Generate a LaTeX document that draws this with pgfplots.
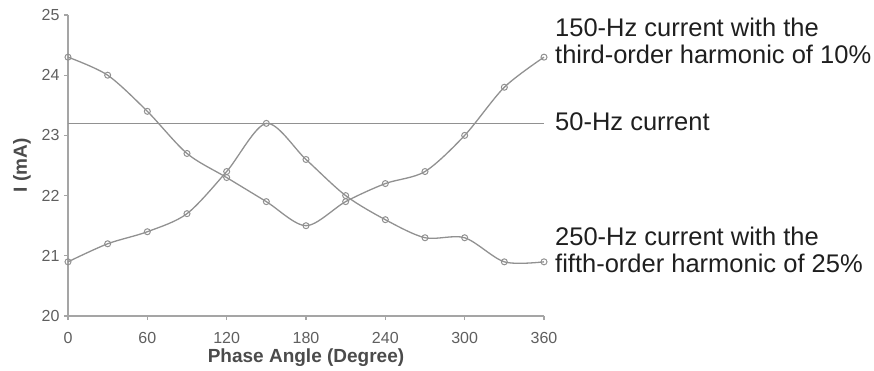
\documentclass[border=0pt]{standalone}
\usepackage{fontspec}
\setmainfont{Liberation Sans}
\usepackage{pgfplots}
\pgfplotsset{compat=1.18}
\definecolor{lgray}{RGB}{145,145,145}
\definecolor{agray}{RGB}{165,165,165}
\definecolor{tgray}{RGB}{95,95,95}
\definecolor{lblgray}{RGB}{75,75,75}
\begin{document}
\begin{tikzpicture}
\begin{axis}[
  scale only axis, width=476bp, height=301bp,
  xmin=0, xmax=360, ymin=20, ymax=25,
  enlargelimits=false, clip=false,
  axis x line=bottom, axis y line=left,
  axis line style={-, agray, line width=1.6bp},
  xtick={0,60,...,360}, ytick={20,21,...,25},
  tick align=outside, major tick length=4bp,
  tick style={agray, line width=1.2bp},
  /pgf/number format/assume math mode=true,
  ticklabel style={font=\fontsize{16bp}{18bp}\selectfont, text=tgray},
  xticklabel style={anchor=center, yshift=-18bp},
  yticklabel style={anchor=east, xshift=-1bp},
  xlabel={Phase Angle (Degree)}, ylabel={I (mA)},
  label style={font=\fontsize{19bp}{21bp}\selectfont\bfseries, text=lblgray},
  xlabel style={at={(axis description cs:0.5,0)}, anchor=center, yshift=-42bp},
  ylabel style={at={(axis description cs:-0.0966,0.5)}, anchor=center},
  every axis plot/.append style={lgray, line width=1.3bp},
]
\addplot[smooth, mark=o, mark size=3bp, mark options={fill=white, line width=1bp}] coordinates {
(0,24.3) (30,24.0) (60,23.4) (90,22.7) (120,22.3) (150,21.9) (180,21.5)
(210,21.9) (240,22.2) (270,22.4) (300,23.0) (330,23.8) (360,24.3)};
\addplot[smooth, mark=o, mark size=3bp, mark options={fill=white, line width=1bp}] coordinates {
(0,20.9) (30,21.2) (60,21.4) (90,21.7) (120,22.4) (150,23.2) (180,22.6)
(210,22.0) (240,21.6) (270,21.3) (300,21.3) (330,20.9) (360,20.9)};
\addplot[no marks, line width=1.2bp] coordinates {(0,23.2) (360,23.2)};
\begin{scope}[every node/.style={font=\fontsize{25.5bp}{27bp}\selectfont, text=black!88, anchor=base west, inner sep=0pt}]
\node at (axis cs:360,24.3) [xshift=11bp, yshift=20.4bp] {150-Hz current with the};
\node at (axis cs:360,24.3) [xshift=11bp, yshift=-6.3bp] {third-order harmonic of 10\%};
\node at (axis cs:360,23.2) [xshift=11bp, yshift=-7.6bp] {50-Hz current};
\node at (axis cs:360,20.9) [xshift=11bp, yshift=16.8bp] {250-Hz current with the};
\node at (axis cs:360,20.9) [xshift=11bp, yshift=-10.8bp] {fifth-order harmonic of 25\%};
\end{scope}
\end{axis}
\path (current axis.south west) ++(-68bp,-53bp) rectangle ++(874bp,369bp);
\end{tikzpicture}
\end{document}
